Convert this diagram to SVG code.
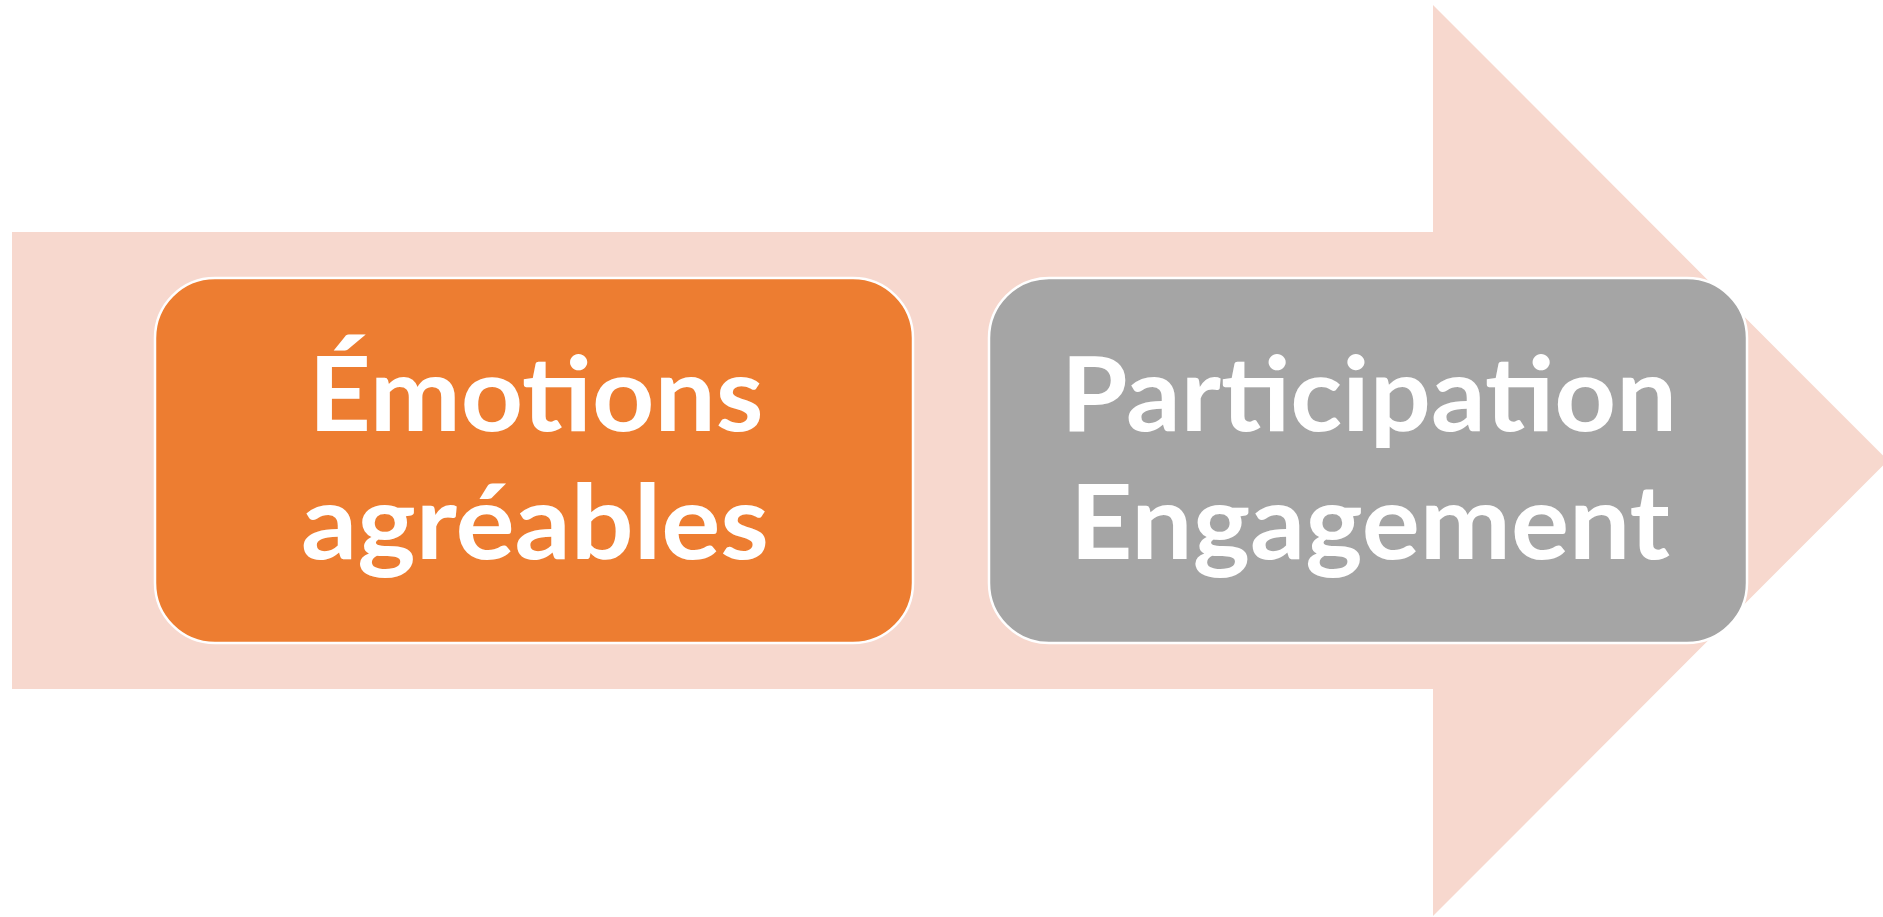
<svg xmlns="http://www.w3.org/2000/svg" width="1883" height="917" viewBox="0 0 1883 917">
  <style>
    .step { stroke: #ffffff; stroke-width: 2.5; }
    .orange { fill: #ED7D31; }
    .grey { fill: #A5A5A5; }
    .label { font-family: Lato, "Open Sans", "Liberation Sans", sans-serif; font-weight: 700; font-size: 104px; fill: #ffffff; text-anchor: middle; }
  </style>
  <rect x="0" y="0" width="1883" height="917" fill="#ffffff"/>

  <!-- wide process arrow behind the steps -->
  <g id="connectors">
    <polygon points="12,232 1433,232 1433,5 1888,460.5 1433,916 1433,689 12,689" fill="#F7D8CE"/>
  </g>

  <g id="step-emotions">
    <rect class="step orange" x="155" y="278" width="758" height="365" rx="60" ry="60"/>
    <text class="label" x="536" y="431" textLength="455" lengthAdjust="spacingAndGlyphs">Émotions</text>
    <text class="label" x="535" y="559" textLength="468" lengthAdjust="spacingAndGlyphs">agréables</text>
  </g>

  <g id="step-participation">
    <rect class="step grey" x="989" y="278" width="758" height="365" rx="60" ry="60"/>
    <text class="label" x="1369" y="431" textLength="616" lengthAdjust="spacingAndGlyphs">Participation</text>
    <text class="label" x="1370" y="559" textLength="600" lengthAdjust="spacingAndGlyphs">Engagement</text>
  </g>
</svg>
